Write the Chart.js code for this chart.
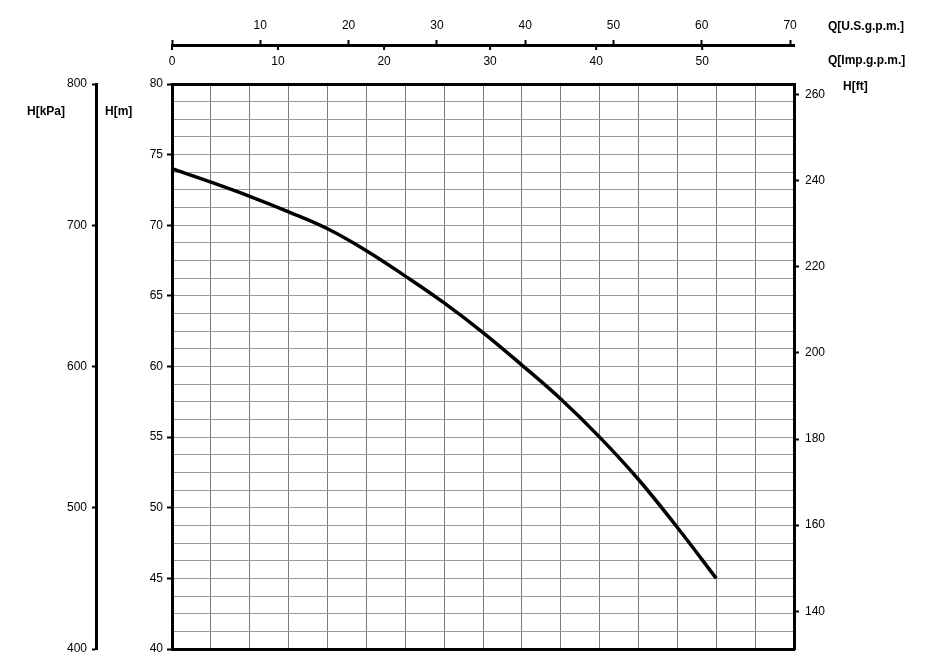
<!DOCTYPE html>
<html>
<head>
<meta charset="utf-8">
<script src="https://cdn.jsdelivr.net/npm/chart.js@4.4.0/dist/chart.umd.min.js"></script>
<style>
  html, body { margin: 0; padding: 0; background: #fff; }
  #wrap { width: 930px; height: 667px; }
</style>
</head>
<body>
<div id="wrap"><canvas id="c" width="930" height="667"></canvas></div>
<script>
// Flow (m3/h, hidden base axis) and head (m)
const flowM3h = [0, 1, 2, 3, 4, 5, 6, 7, 8, 9, 10, 11, 12, 13, 14];
const headM   = [74.0, 73.05, 72.05, 70.95, 69.75, 68.2, 66.4, 64.5, 62.4, 60.1, 57.7, 55.0, 52.0, 48.6, 45.0];

// Axis tick labels
const usTicks  = [0, 10, 20, 30, 40, 50, 60, 70];
const impTicks = [0, 10, 20, 30, 40, 50];
const mLabels  = [40, 45, 50, 55, 60, 65, 70, 75, 80];
const mGrid    = [40, 41.25, 42.5, 43.75, 45, 46.25, 47.5, 48.75, 50, 51.25, 52.5, 53.75, 55, 56.25, 57.5, 58.75,
                  60, 61.25, 62.5, 63.75, 65, 66.25, 67.5, 68.75, 70, 71.25, 72.5, 73.75, 75, 76.25, 77.5, 78.75, 80];
const kpaTicks = [400, 500, 600, 700, 800];
const ftTicks  = [140, 160, 180, 200, 220, 240, 260];
const flowGrid = [0, 1, 2, 3, 4, 5, 6, 7, 8, 9, 10, 11, 12, 13, 14, 15, 16];

// Unit conversions
const FLOW_MAX = 16;
const US_PER_M3H = 4.40287;
const IMP_PER_M3H = 3.66615;
const FT_PER_M = 3.28084;
const H_MIN = 40, H_MAX = 80;

const FONT = { family: "'Liberation Sans', Arial, sans-serif", size: 12 };

const setTicks = (arr) => (scale) => { scale.ticks = arr.map(v => ({ value: v })); };
const fixW = (w) => (scale) => { scale.width = w; };
const fixH = (h) => (scale) => { scale.height = h; };

const unitLabels = {
  id: 'unitLabels',
  afterDraw(chart) {
    const ctx = chart.ctx;
    const imp = chart.scales.imp, us = chart.scales.us;
    ctx.save();
    // imperial tick marks hanging below the shared top line
    ctx.strokeStyle = '#000';
    ctx.lineWidth = 2;
    const yLine = us.bottom;
    imp.ticks.forEach(t => {
      const x = imp.getPixelForValue(t.value);
      ctx.beginPath();
      ctx.moveTo(x, yLine);
      ctx.lineTo(x, yLine + 5);
      ctx.stroke();
    });
    // unit labels
    ctx.fillStyle = '#000';
    ctx.font = "bold 12px 'Liberation Sans', Arial, sans-serif";
    ctx.textBaseline = 'middle';
    ctx.textAlign = 'left';
    ctx.fillText('Q[U.S.g.p.m.]', 828, 27);
    ctx.fillText('Q[Imp.g.p.m.]', 828, 61);
    ctx.fillText('H[ft]', 843, 87);
    ctx.fillText('H[kPa]', 27, 112);
    ctx.fillText('H[m]', 105, 112);
    ctx.restore();
  }
};

new Chart(document.getElementById('c'), {
  type: 'line',
  data: {
    labels: flowM3h,
    datasets: [{
      data: flowM3h.map((x, i) => ({ x: x, y: headM[i] })),
      borderColor: '#000',
      borderWidth: 3.5,
      pointRadius: 0,
      tension: 0.4,
      fill: false,
      xAxisID: 'x',
      yAxisID: 'y'
    }]
  },
  options: {
    responsive: false,
    animation: false,
    layout: { padding: 0 },
    plugins: { legend: { display: false }, tooltip: { enabled: false } },
    scales: {
      x: {
        type: 'linear', position: 'bottom', min: 0, max: FLOW_MAX,
        afterBuildTicks: setTicks(flowGrid),
        afterFit: fixH(18),
        ticks: { display: false, autoSkip: false },
        grid: { color: '#7a7a7a', lineWidth: 1, drawTicks: false },
        border: { display: true, color: '#000', width: 3 }
      },
      us: {
        type: 'linear', position: 'top', weight: 2, min: 0, max: FLOW_MAX * US_PER_M3H,
        afterBuildTicks: setTicks(usTicks),
        afterFit: fixH(45),
        ticks: { color: '#000', font: FONT, padding: 7, autoSkip: false, maxRotation: 0,
                 callback: (v) => v === 0 ? '' : String(v) },
        grid: { drawOnChartArea: false, drawTicks: true, tickLength: 5, tickWidth: 2, tickColor: '#000' },
        border: { display: true, color: '#000', width: 3 }
      },
      imp: {
        type: 'linear', position: 'top', weight: 1, min: 0, max: FLOW_MAX * IMP_PER_M3H,
        afterBuildTicks: setTicks(impTicks),
        afterFit: fixH(39),
        ticks: { color: '#000', font: FONT, padding: 15, autoSkip: false, maxRotation: 0 },
        grid: { drawOnChartArea: false, drawTicks: false },
        border: { display: true, color: '#000', width: 3 }
      },
      y: {
        type: 'linear', position: 'left', weight: 0, min: H_MIN, max: H_MAX,
        afterBuildTicks: setTicks(mGrid),
        afterFit: fixW(76),
        ticks: { color: '#000', font: FONT, padding: 4, autoSkip: false,
                 callback: (v) => mLabels.includes(v) ? String(v) : '' },
        grid: {
          color: '#9a9a9a', lineWidth: 1, drawTicks: true, tickLength: 5, tickWidth: 2,
          tickColor: (c) => (c.tick && mLabels.includes(c.tick.value)) ? '#000' : 'rgba(0,0,0,0)'
        },
        border: { display: true, color: '#000', width: 3 }
      },
      kpa: {
        type: 'linear', position: 'left', weight: 1, min: H_MIN * 10, max: H_MAX * 10,
        afterBuildTicks: setTicks(kpaTicks),
        afterFit: fixW(96),
        ticks: { color: '#000', font: FONT, padding: 5, autoSkip: false },
        grid: { drawOnChartArea: false, drawTicks: true, tickLength: 4, tickWidth: 2, tickColor: '#000' },
        border: { display: true, color: '#000', width: 3 }
      },
      ft: {
        type: 'linear', position: 'right', min: H_MIN * FT_PER_M, max: H_MAX * FT_PER_M,
        afterBuildTicks: setTicks(ftTicks),
        afterFit: fixW(136),
        ticks: { color: '#000', font: FONT, padding: 6, autoSkip: false },
        grid: { drawOnChartArea: false, drawTicks: true, tickLength: 5, tickWidth: 2, tickColor: '#000' },
        border: { display: true, color: '#000', width: 3 }
      }
    }
  },
  plugins: [unitLabels]
});
</script>
</body>
</html>
